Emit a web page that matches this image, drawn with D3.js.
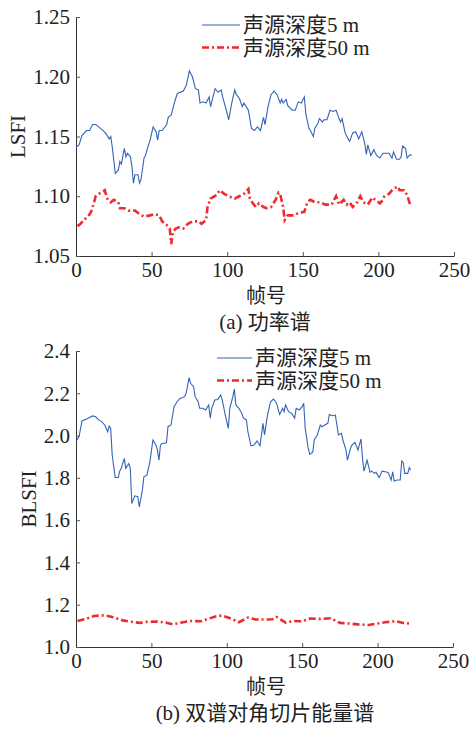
<!DOCTYPE html>
<html>
<head>
<meta charset="utf-8">
<script src="https://cdn.jsdelivr.net/npm/d3@7"></script>
<style>
  body { margin: 0; background: #fff; }
  text { font-family: "Liberation Serif", "Noto Sans CJK SC", serif; fill: #222; }
</style>
</head>
<body>
<div id="chart"></div>
<script>
// (a) power spectrum, LSFI
var framesA5 = [0,2,4,7,9,11,13,15,18,20,22,23,24,25,26,28,29,30,32,33,34,36,37,38,39,41,42,43,45,46,47,49,51,53,54,55,57,60,61,63,65,67,71,73,75,77,79,81,82,84,86,88,89,92,94,96,97,99,101,103,105,106,108,110,111,114,116,118,120,122,124,125,127,129,131,133,135,136,137,139,140,143,145,147,149,151,152,154,155,157,158,160,161,163,164,166,168,170,172,174,175,176,178,180,181,183,185,187,189,191,192,193,195,197,198,199,201,203,205,207,209,210,212,214,215,216,218,219,221,222];
var lsfi5 = [1.141,1.143,1.151,1.155,1.155,1.160,1.160,1.158,1.155,1.152,1.148,1.150,1.141,1.130,1.119,1.122,1.129,1.127,1.140,1.133,1.136,1.133,1.125,1.111,1.118,1.118,1.111,1.114,1.132,1.134,1.139,1.147,1.158,1.154,1.147,1.155,1.155,1.160,1.166,1.168,1.178,1.186,1.188,1.193,1.205,1.200,1.190,1.189,1.178,1.179,1.178,1.183,1.175,1.190,1.187,1.189,1.183,1.174,1.164,1.178,1.189,1.185,1.182,1.175,1.178,1.172,1.157,1.155,1.158,1.155,1.166,1.160,1.175,1.185,1.188,1.185,1.178,1.181,1.178,1.181,1.176,1.172,1.172,1.179,1.178,1.183,1.169,1.157,1.155,1.150,1.157,1.161,1.165,1.162,1.164,1.164,1.172,1.171,1.172,1.165,1.162,1.165,1.153,1.148,1.146,1.153,1.154,1.148,1.154,1.144,1.135,1.143,1.134,1.139,1.136,1.134,1.132,1.136,1.136,1.136,1.132,1.137,1.131,1.131,1.133,1.142,1.140,1.132,1.135,1.134];

var framesA50 = [1,3,6,8,10,12,13,15,18,19,21,23,25,28,29,32,35,39,42,45,49,52,55,57,60,62,63,64,66,68,71,74,77,81,83,86,87,89,93,95,98,101,105,108,111,114,115,117,119,121,124,126,129,132,134,135,137,138,140,144,147,151,153,155,158,161,165,169,172,174,177,179,181,183,186,188,190,193,196,198,201,203,204,207,209,211,213,214,217,219,221];
var lsfi50 = [1.075,1.077,1.081,1.083,1.087,1.095,1.100,1.102,1.104,1.105,1.097,1.095,1.097,1.095,1.090,1.090,1.088,1.088,1.085,1.083,1.084,1.085,1.084,1.079,1.076,1.073,1.060,1.070,1.073,1.074,1.073,1.077,1.079,1.079,1.077,1.080,1.091,1.098,1.101,1.105,1.102,1.100,1.098,1.100,1.102,1.106,1.098,1.094,1.091,1.094,1.091,1.090,1.091,1.097,1.103,1.102,1.091,1.080,1.084,1.084,1.086,1.087,1.095,1.097,1.095,1.095,1.093,1.093,1.100,1.093,1.097,1.093,1.095,1.091,1.095,1.100,1.095,1.093,1.099,1.097,1.094,1.097,1.100,1.102,1.105,1.107,1.108,1.105,1.105,1.101,1.093];

// (b) bispectrum diagonal slice energy spectrum, BLSFI
var framesB5 = [0,2,4,7,9,11,13,15,17,19,21,22,23,24,26,28,29,30,32,33,35,36,37,39,41,42,44,45,47,49,51,53,54,55,56,57,60,61,63,65,67,69,72,73,75,76,78,79,81,82,84,86,88,89,90,92,94,96,97,99,101,102,104,105,106,108,110,111,113,114,116,118,120,122,124,125,127,129,131,133,135,137,138,139,141,143,145,146,148,150,151,152,154,155,157,158,160,162,163,165,167,168,170,172,174,176,177,179,180,182,183,185,187,189,190,191,193,195,196,198,199,201,203,205,207,209,210,211,213,215,216,217,218,220,221,222];
var blsfi5 = [1.974,1.995,2.069,2.078,2.085,2.093,2.089,2.074,2.066,2.050,2.018,2.045,2.034,1.908,1.802,1.802,1.832,1.845,1.892,1.845,1.868,1.845,1.679,1.715,1.711,1.663,1.742,1.805,1.813,1.876,1.979,1.955,1.932,1.884,1.955,1.963,1.966,2.042,2.050,2.137,2.160,2.176,2.184,2.200,2.274,2.247,2.231,2.184,2.160,2.129,2.129,2.121,2.145,2.082,2.129,2.168,2.171,2.192,2.168,2.097,2.034,2.129,2.184,2.220,2.145,2.129,2.105,2.082,2.074,2.018,1.951,1.955,1.974,1.952,2.058,2.003,2.097,2.160,2.173,2.153,2.100,2.129,2.113,2.145,2.113,2.105,2.082,2.129,2.121,2.137,2.153,2.034,1.939,1.911,1.921,1.979,2.003,2.050,2.042,2.050,2.058,2.100,2.094,2.097,2.003,2.011,1.979,1.932,1.884,1.939,1.955,1.968,1.932,1.984,1.892,1.832,1.884,1.826,1.832,1.821,1.826,1.801,1.832,1.829,1.826,1.790,1.829,1.785,1.790,1.790,1.880,1.873,1.821,1.821,1.848,1.837];

var framesB50 = [1,7,12,19,24,31,36,42,47,54,60,64,71,76,83,88,93,97,103,108,114,119,126,130,133,139,144,150,155,162,169,175,181,187,194,200,205,212,217,221];
var blsfi50 = [1.123,1.134,1.147,1.150,1.142,1.126,1.120,1.114,1.119,1.120,1.115,1.107,1.117,1.123,1.122,1.134,1.145,1.149,1.134,1.117,1.139,1.130,1.130,1.131,1.142,1.115,1.123,1.122,1.134,1.133,1.136,1.114,1.111,1.107,1.104,1.111,1.117,1.122,1.114,1.111];

var xTicks = [0, 50, 100, 150, 200, 250];
var yTicksA = [1.05, 1.10, 1.15, 1.20, 1.25];
var yTicksB = [1.0, 1.2, 1.4, 1.6, 1.8, 2.0, 2.2, 2.4];
var legendNames = ["声源深度5 m", "声源深度50 m"];

var blue = "#3563b6";
var red = "#ee2a2c";
var fontSize = 21;

var svg = d3.select("#chart").append("svg")
  .attr("width", 476)
  .attr("height", 731);

function zip(xs, ys)
{
  return xs.map(function(x, i) { return {x: x, y: ys[i]}; });
}

function draw_panel(opts)
{
  var x = d3.scaleLinear().domain([0, 250]).range([opts.left, opts.right]);
  var y = d3.scaleLinear().domain(opts.yDomain).range([opts.bottom, opts.top]);

  // axes, ticks pointing inward
  var xAxis = d3.axisBottom(x).tickValues(xTicks).tickSizeInner(-4).tickSizeOuter(0).tickPadding(6);
  var yAxis = d3.axisLeft(y).tickValues(opts.yTicks).tickSizeInner(-4).tickSizeOuter(0).tickPadding(6)
    .tickFormat(d3.format(opts.yFormat));

  var gx = svg.append("g")
    .attr("transform", "translate(0," + opts.bottom + ")")
    .call(xAxis);
  var gy = svg.append("g")
    .attr("transform", "translate(" + opts.left + ",0)")
    .call(yAxis);

  [gx, gy].forEach(function(g) {
    g.select(".domain").attr("stroke", "#333").attr("stroke-width", 1);
    g.selectAll(".tick line").attr("stroke", "#555");
    g.selectAll(".tick text")
      .attr("font-size", fontSize)
      .attr("font-family", "Liberation Serif, serif")
      .attr("fill", "#222");
  });

  var line = d3.line().x(function(d) { return x(d.x); }).y(function(d) { return y(d.y); });

  svg.append("path")
    .datum(zip(opts.frames5, opts.values5))
    .attr("d", line)
    .attr("fill", "none")
    .attr("stroke", blue)
    .attr("stroke-width", 1.1);

  svg.append("path")
    .datum(zip(opts.frames50, opts.values50))
    .attr("d", line)
    .attr("fill", "none")
    .attr("stroke", red)
    .attr("stroke-width", 2.6)
    .attr("stroke-dasharray", "7,3,2,3");

  // y label
  svg.append("text")
    .attr("transform", "translate(" + opts.yLabelX + "," + ((opts.top + opts.bottom) / 2) + ") rotate(-90)")
    .attr("text-anchor", "middle")
    .attr("dominant-baseline", "central")
    .attr("font-size", fontSize)
    .text(opts.yLabel);

  // x label and caption
  svg.append("text")
    .attr("x", 266)
    .attr("y", opts.bottom + 47)
    .attr("text-anchor", "middle")
    .attr("font-size", fontSize - 1)
    .text("帧号");
  svg.append("text")
    .attr("x", 265)
    .attr("y", opts.bottom + 73)
    .attr("text-anchor", "middle")
    .attr("font-size", fontSize)
    .text(opts.caption);

  // legend
  var lg = svg.append("g")
    .selectAll("g")
    .data(legendNames)
    .join("g")
    .attr("transform", function(d, i) { return "translate(" + opts.legendX + "," + (opts.legendY + i * 22.5) + ")"; });
  lg.append("line")
    .attr("x1", 0).attr("x2", opts.legendLen)
    .attr("y1", 0).attr("y2", 0)
    .attr("stroke", function(d, i) { return i == 0 ? blue : red; })
    .attr("stroke-width", function(d, i) { return i == 0 ? 1.1 : 2.6; })
    .attr("stroke-dasharray", function(d, i) { return i == 0 ? null : "7,3,2,3"; });
  lg.append("text")
    .attr("x", opts.legendLen + 3)
    .attr("y", 7)
    .attr("font-size", fontSize)
    .text(function(d) { return d; });
}

draw_panel({
  left: 76, right: 454, top: 17, bottom: 256,
  yDomain: [1.05, 1.25], yTicks: yTicksA, yFormat: ".2f",
  frames5: framesA5, values5: lsfi5, frames50: framesA50, values50: lsfi50,
  yLabel: "LSFI", yLabelX: 18, caption: "(a) 功率谱",
  legendX: 202, legendY: 25, legendLen: 38
});

draw_panel({
  left: 76, right: 453, top: 351, bottom: 647,
  yDomain: [1.0, 2.4], yTicks: yTicksB, yFormat: ".1f",
  frames5: framesB5, values5: blsfi5, frames50: framesB50, values50: blsfi50,
  yLabel: "BLSFI", yLabelX: 29, caption: "(b) 双谱对角切片能量谱",
  legendX: 217, legendY: 358, legendLen: 35
});
</script>
</body>
</html>
